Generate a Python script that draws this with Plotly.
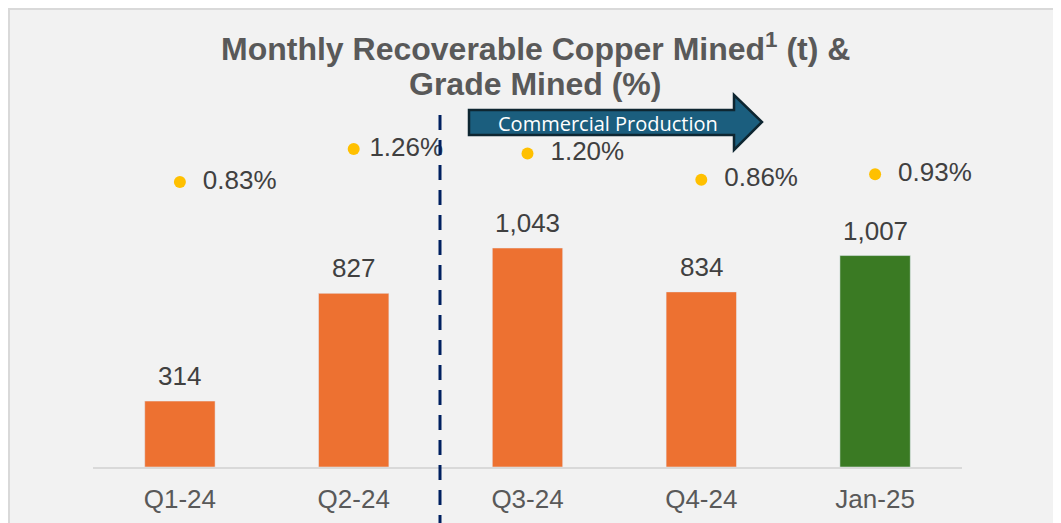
import plotly.graph_objects as go

categories = ["Q1-24", "Q2-24", "Q3-24", "Q4-24", "Jan-25"]
copper_t = [314, 827, 1043, 834, 1007]
grade_pct = [0.83, 1.26, 1.20, 0.86, 0.93]
grade_label_pad = ["  ", " ", "  ", "  ", "  "]
bar_colors = ["#ED7131", "#ED7131", "#ED7131", "#ED7131", "#3A7A23"]
title_lines = ["<b>Monthly Recoverable Copper Mined<sup>1</sup> (t) &</b>", "<b>Grade Mined (%)</b>"]

W, H = 1061, 523
OFF = 8  # page body margin
L, R, T, B = 85, 107, 92, 64
PW, PH = W - L - R, H - T - B

def px(x):
    return (x - OFF - L) / PW

def py(y):
    return (H - B - (y - OFF)) / PH

FONT = "Arial, Liberation Sans"

fig = go.Figure()
fig.add_trace(go.Bar(
    x=categories, y=copper_t, marker_color=bar_colors, width=0.405,
    showlegend=False, hoverinfo="skip"))
fig.add_trace(go.Scatter(
    x=categories, y=grade_pct, yaxis="y2", mode="markers+text",
    marker=dict(color="#FFC000", size=12),
    text=[f"{p}{v:.2f}%" for p, v in zip(grade_label_pad, grade_pct)],
    textposition="middle right",
    textfont=dict(size=26, color="#404040", family=FONT),
    cliponaxis=False, showlegend=False, hoverinfo="skip"))

shapes = []
# panel border
shapes.append(dict(type="rect", xref="paper", yref="paper", layer="below",
                   x0=px(9), x1=px(1080), y0=py(540), y1=py(9),
                   fillcolor="#F2F2F2", line=dict(color="#D9D9D9", width=2)))
# dashed divider
shapes.append(dict(type="line", xref="paper", yref="paper",
                   x0=px(440), x1=px(440), y0=py(530), y1=py(106),
                   line=dict(color="#002060", width=3, dash="15px,10px")))
# arrow
pts = [(469, 110), (734, 110), (734, 95), (762, 122), (734, 150), (734, 135), (469, 135)]
path = "M " + " L ".join(f"{px(x)},{py(y)}" for x, y in pts) + " Z"
shapes.append(dict(type="path", xref="paper", yref="paper", path=path,
                   fillcolor="#1B5E7E", line=dict(color="#0E2631", width=2.5)))

annotations = [dict(text="Commercial Production", xref="paper", yref="paper",
                    x=px(608), y=py(123), xanchor="center", yanchor="middle",
                    showarrow=False,
                    font=dict(size=20, color="white", family="Open Sans"))]
for txt, yy in zip(title_lines, [47, 84]):
    annotations.append(dict(text=txt, xref="paper", yref="paper",
                            x=px(535), y=py(yy), xanchor="center", yanchor="middle",
                            showarrow=False,
                            font=dict(size=32, color="#595959", family=FONT)))
for c, v in zip(categories, copper_t):
    annotations.append(dict(x=c, y=v, xref="x", yref="y", text=f"{v:,}",
                            showarrow=False, yanchor="bottom", yshift=8,
                            font=dict(size=26, color="#404040", family=FONT)))

fig.update_layout(
    width=W, height=H,
    margin=dict(l=L, r=R, t=T, b=B),
    paper_bgcolor="#F2F2F2", plot_bgcolor="rgba(0,0,0,0)",
    xaxis=dict(showline=True, linecolor="#D9D9D9", linewidth=2, showgrid=False,
               tickfont=dict(size=26, color="#595959", family=FONT),
               ticks="", ticklabelstandoff=8),
    yaxis=dict(range=[0, PH * 1043 / 219], visible=False, showgrid=False),
    yaxis2=dict(range=[0.83 - (467 - 182) * 0.43 / 33, 0.83 + (182 - 8 - T) * 0.43 / 33],
                overlaying="y", visible=False, showgrid=False),
    shapes=shapes,
    annotations=annotations,
    bargap=0.6,
)
fig.write_html("out.html")
